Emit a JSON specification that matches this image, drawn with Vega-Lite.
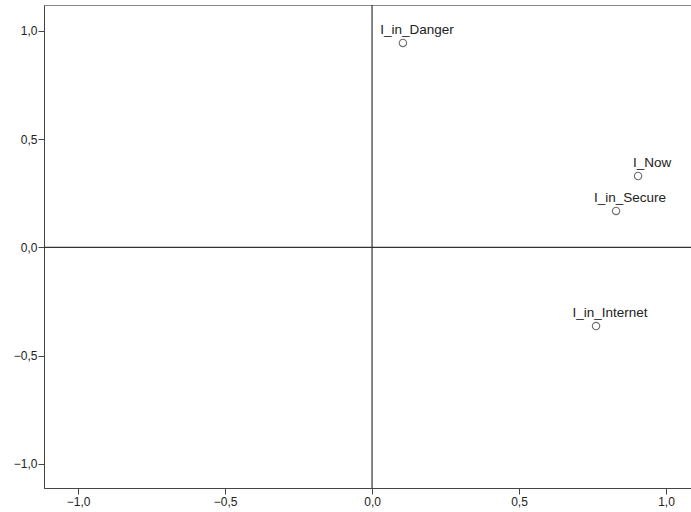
{
  "$schema": "https://vega.github.io/schema/vega-lite/v6.json",
  "width": 647,
  "height": 483,
  "autosize": {"type": "none"},
  "padding": {"left": 44, "top": 5, "right": 0, "bottom": 24},
  "background": "white",
  "config": {
    "view": {"stroke": "#888888", "strokeWidth": 1},
    "font": "Liberation Sans",
    "axis": {
      "grid": false,
      "domainColor": "#444444",
      "domainWidth": 1,
      "tickColor": "#444444",
      "tickSize": 6,
      "labelFont": "Liberation Sans",
      "labelFontSize": 12,
      "labelColor": "#222222",
      "title": null
    }
  },
  "data": {
    "values": [
      {"label": "I_in_Danger", "x": 0.105, "y": 0.945},
      {"label": "I_Now", "x": 0.905, "y": 0.33},
      {"label": "I_in_Secure", "x": 0.83, "y": 0.169},
      {"label": "I_in_Internet", "x": 0.762, "y": -0.363}
    ]
  },
  "layer": [
    {
      "data": {"values": [{"v": 0}]},
      "mark": {"type": "rule", "color": "#333333", "strokeWidth": 1.2},
      "encoding": {"y": {"field": "v", "type": "quantitative", "scale": {"domain": [-1.111, 1.12], "nice": false, "zero": false}}}
    },
    {
      "data": {"values": [{"v": 0}]},
      "mark": {"type": "rule", "color": "#333333", "strokeWidth": 1.2},
      "encoding": {"x": {"field": "v", "type": "quantitative", "scale": {"domain": [-1.116, 1.085], "nice": false, "zero": false}}}
    },
    {
      "mark": {"type": "point", "shape": "circle", "filled": false, "stroke": "#333333", "strokeWidth": 1.1, "size": 55},
      "encoding": {
        "x": {"field": "x", "type": "quantitative", "scale": {"domain": [-1.116, 1.085], "nice": false, "zero": false},
              "axis": {"values": [-1, -0.5, 0, 0.5, 1], "labelExpr": "replace(format(datum.value, '.1f'), '.', ',')", "labelPadding": 2}},
        "y": {"field": "y", "type": "quantitative", "scale": {"domain": [-1.111, 1.12], "nice": false, "zero": false},
              "axis": {"values": [-1, -0.5, 0, 0.5, 1], "labelExpr": "replace(format(datum.value, '.1f'), '.', ',')", "labelPadding": 1}}
      }
    },
    {
      "mark": {"type": "text", "align": "center", "baseline": "middle", "dx": 14, "dy": -13, "fontSize": 13.5, "font": "Liberation Sans", "color": "#222222"},
      "encoding": {
        "x": {"field": "x", "type": "quantitative"},
        "y": {"field": "y", "type": "quantitative"},
        "text": {"field": "label"}
      }
    }
  ]
}
